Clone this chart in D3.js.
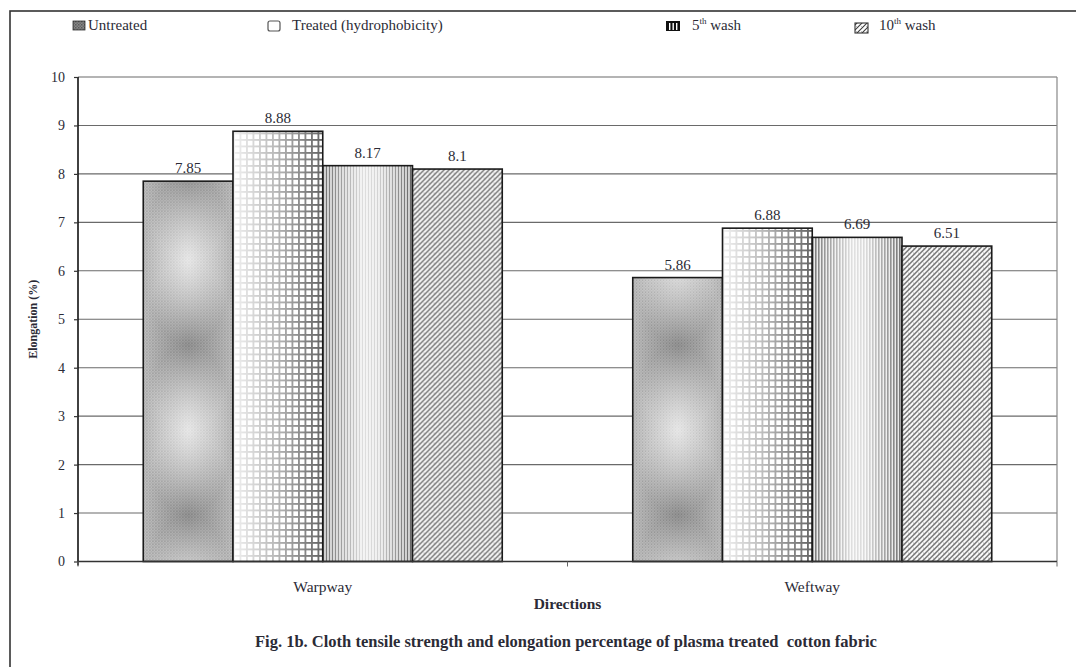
<!DOCTYPE html>
<html>
<head>
<meta charset="utf-8">
<script src="https://cdn.jsdelivr.net/npm/d3@7/dist/d3.min.js"></script>
<style>
  html, body { margin: 0; padding: 0; background: #fff; }
  svg { display: block; }
  text { font-family: "Liberation Serif", "Times New Roman", serif; fill: #2b2b36; }
</style>
</head>
<body>
<svg id="chart" width="1076" height="667"></svg>
<script>
// Elongation (%) by fabric direction and treatment
const categories = ["Warpway", "Weftway"];
const seriesNames = ["Untreated", "Treated (hydrophobicity)", "5th wash", "10th wash"];
const untreated = [7.85, 5.86];
const treated = [8.88, 6.88];
const wash5 = [8.17, 6.69];
const wash10 = [8.1, 6.51];
const yTicks = [0, 1, 2, 3, 4, 5, 6, 7, 8, 9, 10];

const seriesValues = [untreated, treated, wash5, wash10];

const svg = d3.select("#chart");
const W = 1076, H = 667;
const plot = { left: 78, right: 1057, top: 77, bottom: 561.5 };

// outer frame
svg.append("rect")
  .attr("x", 10).attr("y", 11)
  .attr("width", W + 20).attr("height", H + 20)
  .attr("fill", "none").attr("stroke", "#333").attr("stroke-width", 1.6);

const defs = svg.append("defs");

// Untreated: fine dot screen
const p0 = defs.append("pattern").attr("id", "dots")
  .attr("patternUnits", "userSpaceOnUse").attr("width", 3).attr("height", 3);
p0.append("rect").attr("width", 3).attr("height", 3).attr("fill", "#d2d2d2");
p0.append("rect").attr("width", 1.5).attr("height", 1.5).attr("fill", "#8c8c8c");
p0.append("rect").attr("x", 1.5).attr("y", 1.5).attr("width", 1.5).attr("height", 1.5).attr("fill", "#a4a4a4");

// Untreated: alternating light and dark glows down the bar
const rgLight = defs.append("radialGradient").attr("id", "glowLight")
  .attr("cx", "50%").attr("cy", "50%").attr("r", "50%");
rgLight.append("stop").attr("offset", "0%").attr("stop-color", "#fff").attr("stop-opacity", 0.65);
rgLight.append("stop").attr("offset", "100%").attr("stop-color", "#fff").attr("stop-opacity", 0);
const rgDark = defs.append("radialGradient").attr("id", "glowDark")
  .attr("cx", "50%").attr("cy", "50%").attr("r", "50%");
rgDark.append("stop").attr("offset", "0%").attr("stop-color", "#000").attr("stop-opacity", 0.22);
rgDark.append("stop").attr("offset", "100%").attr("stop-color", "#000").attr("stop-opacity", 0);
const tileH = 170;
const pRad = defs.append("pattern").attr("id", "radTile")
  .attr("patternUnits", "userSpaceOnUse").attr("width", 90).attr("height", tileH)
  .attr("y", -131.5);
pRad.append("rect").attr("y", 0).attr("width", 90).attr("height", tileH).attr("fill", "url(#glowDark)");
pRad.append("rect").attr("y", -tileH / 2).attr("width", 90).attr("height", tileH).attr("fill", "url(#glowLight)");
pRad.append("rect").attr("y", tileH / 2).attr("width", 90).attr("height", tileH).attr("fill", "url(#glowLight)");

// Treated: square grid
const p1 = defs.append("pattern").attr("id", "grid")
  .attr("patternUnits", "userSpaceOnUse").attr("width", 6.5).attr("height", 6.5);
p1.append("rect").attr("width", 6.5).attr("height", 6.5).attr("fill", "#fff");
p1.append("rect").attr("width", 6.5).attr("height", 1.8).attr("fill", "#555");
p1.append("rect").attr("width", 1.8).attr("height", 6.5).attr("fill", "#555");
const lg1 = defs.append("linearGradient").attr("id", "shadeGrid")
  .attr("x1", 0).attr("x2", 1).attr("y1", 0).attr("y2", 0);
lg1.append("stop").attr("offset", "0%").attr("stop-color", "#fff").attr("stop-opacity", 0.92);
lg1.append("stop").attr("offset", "45%").attr("stop-color", "#fff").attr("stop-opacity", 0.6);
lg1.append("stop").attr("offset", "100%").attr("stop-color", "#fff").attr("stop-opacity", 0.08);

// 5th wash: vertical stripes
const p2 = defs.append("pattern").attr("id", "stripes")
  .attr("patternUnits", "userSpaceOnUse").attr("width", 3).attr("height", 10);
p2.append("rect").attr("width", 3).attr("height", 10).attr("fill", "#f4f4f4");
p2.append("rect").attr("width", 1.3).attr("height", 10).attr("fill", "#3a3a3a");
const lg2 = defs.append("linearGradient").attr("id", "shadeStripes")
  .attr("x1", 0).attr("x2", 1).attr("y1", 0).attr("y2", 0);
lg2.append("stop").attr("offset", "0%").attr("stop-color", "#fff").attr("stop-opacity", 0.1);
lg2.append("stop").attr("offset", "45%").attr("stop-color", "#fff").attr("stop-opacity", 0.8);
lg2.append("stop").attr("offset", "60%").attr("stop-color", "#fff").attr("stop-opacity", 0.75);
lg2.append("stop").attr("offset", "100%").attr("stop-color", "#fff").attr("stop-opacity", 0.05);

// 10th wash: diagonal hatch with faint cross-dashes
const p3 = defs.append("pattern").attr("id", "diag")
  .attr("patternUnits", "userSpaceOnUse").attr("width", 5).attr("height", 5);
p3.append("rect").attr("width", 5).attr("height", 5).attr("fill", "#fff");
p3.append("path").attr("d", "M1,1 L3.2,3.2")
  .attr("stroke", "#b5b5b5").attr("stroke-width", 0.9);
p3.append("path").attr("d", "M-1,6 L6,-1 M-1,1 L1,-1 M4,6 L6,4")
  .attr("stroke", "#3c3c3c").attr("stroke-width", 1.1);

const fills = ["url(#dots)", "url(#grid)", "url(#stripes)", "url(#diag)"];
const overlays = ["url(#radTile)", "url(#shadeGrid)", "url(#shadeStripes)", null];

// scales
const x0 = d3.scaleBand().domain(categories)
  .range([plot.left, plot.right]).paddingInner(0.2666).paddingOuter(0.1333);
const x1 = d3.scaleBand().domain(seriesNames).range([0, x0.bandwidth()]).padding(0);
const y = d3.scaleLinear().domain([0, 10]).range([plot.bottom, plot.top]);

// gridlines
svg.append("g")
  .selectAll("line").data(yTicks).join("line")
  .attr("x1", plot.left).attr("x2", plot.right)
  .attr("y1", d => y(d)).attr("y2", d => y(d))
  .attr("stroke", "#6a6a6a").attr("stroke-width", 1.1);

// right edge of the plot area
svg.append("line")
  .attr("x1", plot.right).attr("x2", plot.right)
  .attr("y1", plot.top).attr("y2", plot.bottom)
  .attr("stroke", "#888").attr("stroke-width", 1.2);

// bars
const rows = categories.map((c, i) => ({ cat: c, vals: seriesValues.map((s, j) => ({ name: seriesNames[j], idx: j, v: s[i] })) }));
const groups = svg.append("g").selectAll("g").data(rows).join("g")
  .attr("transform", d => `translate(${x0(d.cat)},0)`);

const bars = groups.selectAll("g.bar").data(d => d.vals).join("g")
  .attr("class", "bar")
  .attr("transform", d => `translate(${x1(d.name)},${y(0)})`);

bars.append("rect")
  .attr("x", 0).attr("y", d => y(d.v) - y(0))
  .attr("width", x1.bandwidth()).attr("height", d => y(0) - y(d.v))
  .attr("fill", d => fills[d.idx]);

bars.filter(d => overlays[d.idx]).append("rect")
  .attr("x", 0).attr("y", d => y(d.v) - y(0))
  .attr("width", x1.bandwidth()).attr("height", d => y(0) - y(d.v))
  .attr("fill", d => overlays[d.idx]);

bars.append("rect")
  .attr("x", 0).attr("y", d => y(d.v) - y(0))
  .attr("width", x1.bandwidth()).attr("height", d => y(0) - y(d.v))
  .attr("fill", "none").attr("stroke", "#1a1a1a").attr("stroke-width", 1.6);

// value labels
bars.append("text")
  .attr("x", x1.bandwidth() / 2)
  .attr("y", d => y(d.v) - y(0) - 8)
  .attr("text-anchor", "middle")
  .attr("font-size", 15)
  .text(d => d.v);

// y axis
const yAxis = svg.append("g")
  .attr("transform", `translate(${plot.left},0)`)
  .call(d3.axisLeft(y).tickValues(yTicks).tickSize(4).tickPadding(9).tickFormat(d3.format("d")));
yAxis.select(".domain").attr("stroke", "#111").attr("stroke-width", 1.6)
  .attr("d", `M0,${plot.top}V${plot.bottom + 4}`);
yAxis.selectAll(".tick line").attr("stroke", "#333").attr("stroke-width", 1.2);
yAxis.selectAll(".tick text")
  .attr("font-family", "Liberation Serif, serif").attr("font-size", 14).attr("fill", "#2b2b36");

// x axis
const xAxis = svg.append("g")
  .attr("transform", `translate(0,${plot.bottom})`)
  .call(d3.axisBottom(x0).tickSize(0).tickPadding(19));
xAxis.select(".domain").attr("stroke", "#333").attr("stroke-width", 1.4)
  .attr("d", `M${plot.left},0H${plot.right}`);
xAxis.selectAll(".tick text")
  .attr("font-family", "Liberation Serif, serif").attr("font-size", 15.5).attr("fill", "#2b2b36");
// category separators
const bounds = [plot.left, (plot.left + plot.right) / 2, plot.right];
svg.append("g").selectAll("line").data(bounds).join("line")
  .attr("x1", d => d).attr("x2", d => d)
  .attr("y1", plot.bottom).attr("y2", plot.bottom + 5)
  .attr("stroke", "#666").attr("stroke-width", 1);

// axis titles
svg.append("text")
  .attr("transform", `translate(37,${(plot.top + plot.bottom) / 2}) rotate(-90)`)
  .attr("text-anchor", "middle").attr("font-weight", "bold").attr("font-size", 12)
  .text("Elongation (%)");

svg.append("text")
  .attr("x", (plot.left + plot.right) / 2).attr("y", 609)
  .attr("text-anchor", "middle").attr("font-weight", "bold").attr("font-size", 15.5)
  .text("Directions");

svg.append("text")
  .attr("x", 566).attr("y", 647)
  .attr("text-anchor", "middle").attr("font-weight", "bold").attr("font-size", 16.5)
  .attr("fill", "#1e1e28")
  .attr("xml:space", "preserve")
  .text("Fig. 1b. Cloth tensile strength and elongation percentage of plasma treated  cotton fabric");

// legend
const legendItems = [
  { x: 73, textX: 88, label: "Untreated", sup: null },
  { x: 268, textX: 292, label: "Treated (hydrophobicity)", sup: null },
  { x: 666, textX: 692, label: "5", sup: "th", rest: " wash" },
  { x: 855, textX: 879, label: "10", sup: "th", rest: " wash" }
];
const legend = svg.append("g");
legendItems.forEach((it, i) => {
  const g = legend.append("g");
  if (i === 0) {
    g.append("rect").attr("x", it.x).attr("y", 21).attr("width", 12).attr("height", 9)
      .attr("fill", "url(#dots)").attr("stroke", "#333").attr("stroke-width", 0.8);
    g.append("rect").attr("x", it.x).attr("y", 21).attr("width", 12).attr("height", 9)
      .attr("fill", "#000").attr("opacity", 0.35);
  } else if (i === 1) {
    g.append("rect").attr("x", it.x).attr("y", 21).attr("width", 12).attr("height", 10).attr("rx", 2)
      .attr("fill", "#fff").attr("stroke", "#555").attr("stroke-width", 1.2);
  } else if (i === 2) {
    g.append("rect").attr("x", it.x).attr("y", 21).attr("width", 14).attr("height", 10)
      .attr("fill", "#111");
    [3, 6.5, 10].forEach(o => g.append("rect").attr("x", it.x + o).attr("y", 23)
      .attr("width", 1.4).attr("height", 7).attr("fill", "#fff"));
  } else {
    g.append("rect").attr("x", it.x).attr("y", 23).attr("width", 13).attr("height", 10)
      .attr("fill", "url(#diag)").attr("stroke", "#333").attr("stroke-width", 1.1);
  }
  const t = g.append("text").attr("x", it.textX).attr("y", 30).attr("font-size", 15);
  t.append("tspan").text(it.label);
  if (it.sup) {
    t.append("tspan").attr("dy", -6).attr("font-size", 9).text(it.sup);
    t.append("tspan").attr("dy", 6).text(it.rest);
  }
});
</script>
</body>
</html>
